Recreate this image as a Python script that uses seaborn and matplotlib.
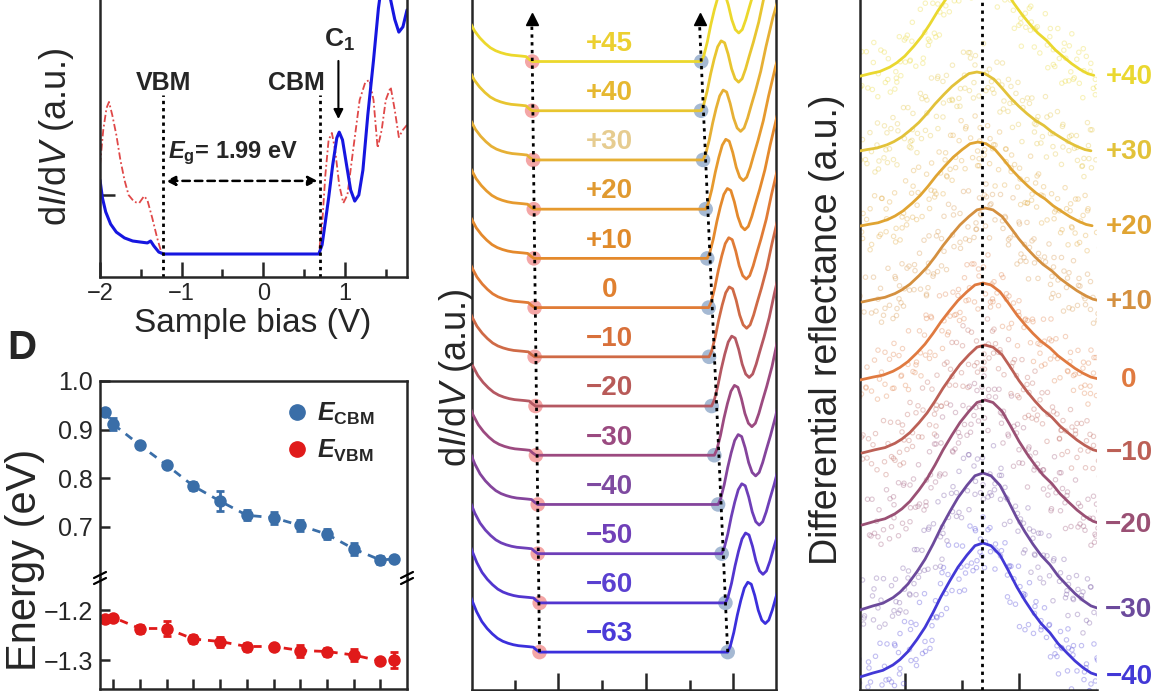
import matplotlib.pyplot as plt
from matplotlib.lines import Line2D
import numpy as np
import seaborn as sns

sns.set_style("ticks")
plt.rcParams['font.family'] = ['Liberation Sans', 'DejaVu Sans']
plt.rcParams['mathtext.fontset'] = 'custom'
plt.rcParams['mathtext.rm'] = 'Liberation Sans'
plt.rcParams['mathtext.it'] = 'Liberation Sans:italic'
plt.rcParams['mathtext.bf'] = 'Liberation Sans:bold'
plt.rcParams['mathtext.bfit'] = 'Liberation Sans:italic:bold'
plt.rcParams['axes.linewidth'] = 1.8

# ---- panel A: single dI/dV spectrum
bias_blue = [-2.0, -1.97, -1.93, -1.87, -1.8, -1.7, -1.6, -1.5, -1.42, -1.38, -1.34, -1.28, -1.22,
             0.68, 0.72, 0.76, 0.8, 0.85, 0.9, 0.93, 0.97, 1.02, 1.07, 1.12, 1.17, 1.22, 1.28,
             1.35, 1.41, 1.46, 1.51, 1.56, 1.61, 1.66, 1.71, 1.76]
didv_blue = [0.35, 0.285, 0.235, 0.191, 0.162, 0.141, 0.13, 0.126, 0.123, 0.13, 0.112, 0.09, 0.083,
             0.083, 0.116, 0.199, 0.285, 0.404, 0.502, 0.523, 0.495, 0.404, 0.314, 0.274, 0.296,
             0.386, 0.585, 0.783, 0.97, 1.08, 1.12, 1.0, 0.93, 0.884, 0.903, 0.964]
bias_red = [-2.0, -1.96, -1.92, -1.89, -1.85, -1.8, -1.75, -1.7, -1.65, -1.58, -1.52, -1.46, -1.42,
            -1.36, -1.3, -1.25, -1.22, 0.68, 0.72, 0.76, 0.8, 0.84, 0.88, 0.93, 0.98, 1.03, 1.1,
            1.18, 1.25, 1.3, 1.35, 1.4, 1.45, 1.5, 1.56, 1.61, 1.66, 1.71, 1.76]
didv_red = [0.404, 0.531, 0.61, 0.632, 0.585, 0.513, 0.422, 0.35, 0.296, 0.271, 0.267, 0.292, 0.278,
            0.213, 0.141, 0.09, 0.083, 0.083, 0.188, 0.368, 0.495, 0.52, 0.458, 0.332, 0.267, 0.296,
            0.458, 0.639, 0.704, 0.711, 0.639, 0.466, 0.531, 0.639, 0.686, 0.603, 0.505, 0.531, 0.549]
vbm_a, cbm_a = -1.23, 0.70

# ---- panel D: band edges vs twist angle
twist = [-63, -60, -50, -40, -30, -20, -10, 0, 10, 20, 30, 40, 45]
e_cbm = [0.937, 0.911, 0.868, 0.827, 0.784, 0.753, 0.724, 0.719, 0.703, 0.685, 0.655, 0.632, 0.634]
e_cbm_err = [0.006, 0.012, 0.006, 0.005, 0.008, 0.02, 0.01, 0.012, 0.012, 0.01, 0.012, 0.008, 0.004]
e_vbm = [-1.217, -1.215, -1.237, -1.237, -1.258, -1.263, -1.273, -1.273, -1.281, -1.283, -1.29, -1.302, -1.30]
e_vbm_err = [0.005, 0.006, 0.008, 0.015, 0.008, 0.01, 0.008, 0.005, 0.012, 0.008, 0.012, 0.006, 0.016]

# ---- panel B: stacked spectra (bottom -63 ... top +45)
offsets_b = [0, 1, 2, 3, 4, 5, 6, 7, 8, 9, 10, 11, 12]
labels_b = ['\u221263', '\u221260', '\u221250', '\u221240', '\u221230', '\u221220', '\u221210',
            '0', '+10', '+20', '+30', '+40', '+45']
colors_b = ['#3b2fdc', '#5235cf', '#6e3fb8', '#84449c', '#9c4a80', '#b55862', '#cf6a46',
            '#e07b36', '#e4892c', '#e69a2e', '#e6b035', '#e8c530', '#ecd82c']
label_colors_b = ['#4a3ad8', '#5a40d0', '#7040b8', '#7e4aa0', '#9a4a80', '#b85a58', '#d8703a',
                  '#e08030', '#e08a2a', '#e09a30', '#e6cc90', '#e6b830', '#ecd030']
left_dx = [-0.85, -0.78, -0.72, -0.66, -0.6, -0.54, -0.48, -0.42, -0.36, -0.3, -0.24, -0.18,
           -0.12, -0.07, -0.04, 0.0]
left_h = [1.45, 1.08, 0.82, 0.62, 0.48, 0.37, 0.28, 0.22, 0.18, 0.15, 0.13, 0.12, 0.11, 0.1, 0.05, 0.0]
right_dx = [0.0, 0.03, 0.07, 0.11, 0.15, 0.19, 0.23, 0.27, 0.31, 0.35, 0.39, 0.43, 0.47, 0.51,
            0.55, 0.6, 0.66, 0.72, 0.8, 0.9]
right_h = [0.0, 0.12, 0.4, 0.75, 1.05, 1.3, 1.42, 1.38, 1.15, 0.85, 0.65, 0.58, 0.65, 0.85,
           1.1, 1.4, 1.8, 2.3, 2.9, 3.5]

# ---- panel C: differential reflectance (bottom -40 ... top +40)
labels_c = ['\u221240', '\u221230', '\u221220', '\u221210', '0', '+10', '+20', '+30', '+40']
colors_c = ['#4238d6', '#6c4a9c', '#9a5074', '#bc6056', '#e07a40', '#d49040', '#e0a432',
            '#e2c23a', '#ead830']
base_c = [13, 80, 165, 237, 310, 388, 463, 538, 613]
height_c = [134, 137, 125, 108, 97, 94, 85, 80, 110]
center_c = [1.9365, 1.9365, 1.94, 1.94, 1.9365, 1.94, 1.928, 1.926, 1.931]
prof_dx = [-123, -110, -100, -90, -83, -75, -66, -58, -50, -42, -33, -25, -16, -8, 0,
           8, 17, 25, 34, 42, 50, 58, 67, 75, 84, 92, 100, 108, 114]
prof_h = [0, 0.03, 0.05, 0.09, 0.13, 0.19, 0.28, 0.37, 0.48, 0.6, 0.72, 0.82, 0.91, 0.98, 1,
          0.98, 0.91, 0.8, 0.67, 0.57, 0.48, 0.4, 0.33, 0.25, 0.18, 0.12, 0.07, 0.03, 0.015]
jit_dx = [-5, 3, -2, 6, -4]
jit_dy = [12, -15, 20, -6, -19]
noise = [4, -7, 2, 9, -5, 6, -2, -9, 7, 1, -6, 10, -3, 5, -8]
PX_PER_EV = 575.0

W, H = 1159, 691
fig = plt.figure(figsize=(W / 100, H / 100), dpi=100)


def box(x0, y0, x1, y1):
    # pixel box (top-left origin) -> figure fraction rect
    return [x0 / W, 1 - y1 / H, (x1 - x0) / W, (y1 - y0) / H]


def ftext(x, y, s, **kw):
    fig.text(x / W, 1 - y / H, s, ha='center', va='center', **kw)


# ================= panel A
axA = fig.add_axes(box(100, 0, 407, 277))
sns.lineplot(x=bias_red, y=didv_red, sort=False, estimator=None, color='#e04848', lw=1.3,
             linestyle=(0, (4, 1.5, 1, 1.5)), ax=axA)
sns.lineplot(x=bias_blue, y=didv_blue, sort=False, estimator=None, color='#1616e0', lw=2.2, ax=axA)
for xv in (vbm_a, cbm_a):
    axA.plot([xv, xv], [0, 0.657], color='k', lw=2, ls=(0, (1.2, 1.4)))
axA.annotate('', xy=(vbm_a, 0.347), xytext=(cbm_a, 0.347),
             arrowprops=dict(arrowstyle='<|-|>', ls=(0, (3, 2)), lw=1.8, color='k', mutation_scale=14))
axA.text(-1.22, 0.70, 'VBM', ha='center', va='center', fontsize=18, fontweight='bold')
axA.text(0.41, 0.70, 'CBM', ha='center', va='center', fontsize=18, fontweight='bold')
axA.text(-1.17, 0.448, r'$\mathbfit{E}_{\mathbf{g}}$= 1.99 eV', ha='left', va='center',
         fontsize=17, fontweight='bold')
axA.text(0.93, 0.856, r'$\mathbf{C}_{\mathbf{1}}$', ha='center', va='center', fontsize=19)
axA.annotate('', xy=(0.92, 0.56), xytext=(0.92, 0.79),
             arrowprops=dict(arrowstyle='-|>', lw=1.5, color='k', mutation_scale=14))
axA.set_xlim(-2, 1.76)
axA.set_ylim(0, 1)
axA.set_xticks([-2, -1, 0, 1])
axA.set_xticklabels(['\u22122', '\u22121', '0', '1'])
axA.set_xticks([-1.5, -0.5, 0.5, 1.5], minor=True)
axA.set_yticks([0.296])
axA.set_yticklabels([''])
axA.tick_params(direction='in', length=11, width=1.8, labelsize=17, pad=4)
axA.tick_params(which='minor', direction='in', length=6, width=1.8)
axA.spines['top'].set_visible(False)
axA.set(xlabel=None, ylabel=None)
ftext(253, 324, 'Sample bias (V)', fontsize=24)
ftext(57, 137, r'd$\it{I}$/d$\it{V}$ (a.u.)', fontsize=26, rotation=90)

# ================= panel D (broken axis)
axDt = fig.add_axes(box(100, 381, 407, 578))
axDb = fig.add_axes(box(100, 578, 407, 689))
c_cbm, c_vbm = '#3a6ea8', '#e01a1a'
for ax, e, err, col in ((axDt, e_cbm, e_cbm_err, c_cbm), (axDb, e_vbm, e_vbm_err, c_vbm)):
    ax.errorbar(twist, e, yerr=err, fmt='none', ecolor=col, elinewidth=2, capsize=3, capthick=2)
    sns.lineplot(x=twist, y=e, ax=ax, color=col, lw=2, linestyle=(0, (3, 2.5)), marker='o',
                 markersize=9, markeredgewidth=0, estimator=None)
    ax.set_xlim(-65, 50)
    ax.set(xlabel=None, ylabel=None)
    ax.tick_params(direction='in', length=7, width=1.8, labelsize=18, pad=5)
axDt.set_ylim(0.595, 1.0)
axDt.set_yticks([0.7, 0.8, 0.9, 1.0])
axDt.set_yticklabels(['0.7', '0.8', '0.9', '1.0'])
axDt.set_xticks([])
axDt.spines['bottom'].set_visible(False)
axDb.set_ylim(-1.358, -1.136)
axDb.set_yticks([-1.3, -1.2])
axDb.set_yticklabels(['\u22121.3', '\u22121.2'])
axDb.set_xticks([-60, -50, -40, -30, -20, -10, 0, 10, 20, 30, 40])
axDb.set_xticklabels([])
axDb.spines['top'].set_visible(False)
handles = [Line2D([], [], marker='o', ls='', color=c_cbm, markersize=11),
           Line2D([], [], marker='o', ls='', color=c_vbm, markersize=11)]
axDt.legend(handles, [r'$\mathbfit{E}_{\mathbf{CBM}}$', r'$\mathbfit{E}_{\mathbf{VBM}}$'],
            loc='upper left', bbox_to_anchor=(0.6, 0.9), frameon=False, fontsize=18,
            handlelength=1.0, handletextpad=0.3, labelspacing=0.45, borderaxespad=0, borderpad=0)
for xb in (100, 407):
    for dy in (-3, 3):
        fig.add_artist(Line2D([(xb - 6) / W, (xb + 6) / W],
                              [1 - (578 + dy + 3) / H, 1 - (578 + dy - 3) / H], color='k', lw=1.6))
ftext(22, 348, 'D', fontsize=29, fontweight='bold')
ftext(25, 560, 'Energy (eV)', fontsize=30, rotation=90)

# ================= panel B
axB = fig.add_axes(box(472, 0, 776, 690))
for k in range(len(offsets_b)):
    xs = [e_vbm[k] + d for d in left_dx] + [e_cbm[k] + d for d in right_dx]
    ys = [offsets_b[k] + h for h in left_h] + [offsets_b[k] + h for h in right_h]
    sns.lineplot(x=xs, y=ys, sort=False, estimator=None, color=colors_b[k], lw=2, ax=axB, zorder=3)
    axB.text(-0.42, offsets_b[k] + 0.36, labels_b[k], ha='center', va='center', fontsize=20,
             fontweight='bold', color=label_colors_b[k], zorder=4)
sns.scatterplot(x=e_vbm, y=offsets_b, s=110, color='#f08080', alpha=0.7, edgecolor='none', ax=axB, zorder=2)
sns.scatterplot(x=e_cbm, y=offsets_b, s=110, color='#8fa8c8', alpha=0.8, edgecolor='none', ax=axB, zorder=2)
axB.set_xlim(-1.99, 1.49)
axB.set_ylim(-0.77, 13.25)
top_y = offsets_b[-1] + 0.78
for e in (e_vbm, e_cbm):
    x_top = e[-1] + (e[-1] - e[0]) * 0.78 / (offsets_b[-1] - offsets_b[0])
    axB.plot([e[0], x_top], [offsets_b[0], top_y], color='k', lw=2, ls=(0, (1.2, 1.6)), zorder=5)
    axB.plot([x_top], [top_y + 0.08], marker='^', color='k', markersize=9, zorder=5, clip_on=False)
axB.set_xticks([-1, 0, 1])
axB.set_xticks([-1.5, -0.5, 0.5], minor=True)
axB.set_xticklabels([])
axB.set_yticks([])
axB.tick_params(direction='in', length=12, width=1.8)
axB.tick_params(which='minor', direction='in', length=7, width=1.8)
axB.spines['top'].set_visible(False)
axB.set(xlabel=None, ylabel=None)
ftext(456, 378, r'd$\it{I}$/d$\it{V}$ (a.u.)', fontsize=26, rotation=90)

# ================= panel C
axC = fig.add_axes(box(860, 0, 1097, 690))
for k in range(len(base_c)):
    xs = [center_c[k] + d / PX_PER_EV for d in prof_dx]
    ys = [base_c[k] + height_c[k] * h for h in prof_h]
    sx, sy = [], []
    for i in range(len(prof_dx)):
        for j in range(len(jit_dx)):
            sx.append(xs[i] + (jit_dx[j] + noise[(2 * i + j + k) % 15] / 2) / PX_PER_EV)
            sy.append(ys[i] + jit_dy[j] + noise[(i + 3 * j + 5 * k) % 15])
    sns.scatterplot(x=sx, y=sy, s=10, marker='o', facecolors='none', edgecolor=colors_c[k],
                    linewidth=0.8, alpha=0.32, ax=axC, zorder=2)
    sns.lineplot(x=xs, y=ys, sort=False, estimator=None, color=colors_c[k], lw=2, ax=axC, zorder=3)
    axC.text(1.9 + 167 / PX_PER_EV, base_c[k], labels_c[k], ha='center', va='center', fontsize=20,
             fontweight='bold', color=colors_c[k], clip_on=False)
axC.axvline(np.mean(center_c), color='k', lw=2, ls=(0, (1.2, 1.6)), zorder=4)
axC.set_xlim(1.7226, 2.1348)
axC.set_ylim(0, 690)
axC.set_xticks([1.8, 2.0])
axC.set_xticks([1.9], minor=True)
axC.set_xticklabels([])
axC.set_yticks([])
axC.tick_params(direction='in', length=12, width=1.8)
axC.tick_params(which='minor', direction='in', length=7, width=1.8)
axC.spines['top'].set_visible(False)
axC.spines['right'].set_visible(False)
axC.set(xlabel=None, ylabel=None)
ftext(827, 330, 'Differential reflectance (a.u.)', fontsize=27, rotation=90)

fig.savefig('out.png', dpi=100)
